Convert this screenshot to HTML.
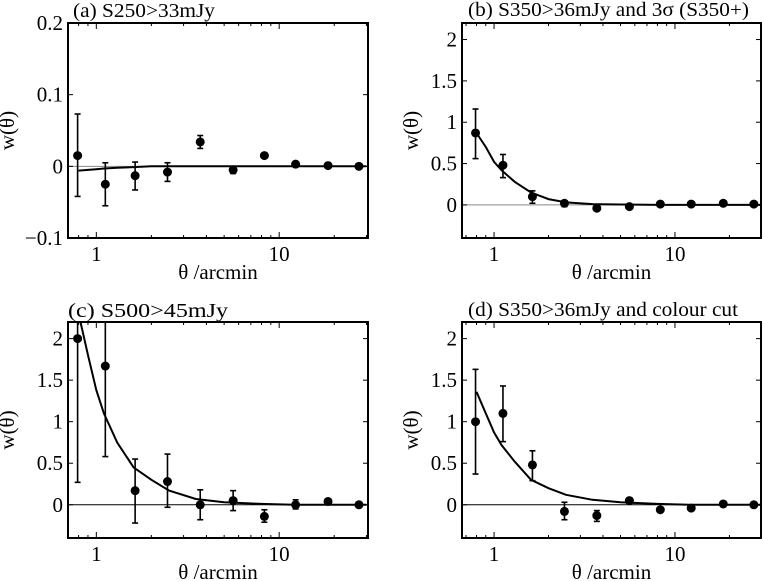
<!DOCTYPE html>
<html><head><meta charset="utf-8"><style>
body{margin:0;background:#fff}
svg{display:block}
text{font-family:"Liberation Serif",serif;fill:#000}
</style></head><body>
<svg id="fig" width="764" height="581" viewBox="0 0 764 581" xmlns="http://www.w3.org/2000/svg"></svg>
<script>
const thetaValues = [0.79,1.12,1.63,2.45,3.7,5.6,8.3,12.3,18.5,27.3];
const aValues = [0.015,-0.025,-0.013,-0.008,0.034,-0.005,0.015,0.003,0.001,0];
const aErrHi = [0.073,0.005,0.006,0.005,0.043,0,0.017,0.004,0.002,0.001];
const aErrLo = [-0.042,-0.055,-0.033,-0.021,0.025,-0.01,0.013,0.002,0,-0.001];
const bValues = [0.87,0.48,0.1,0.02,-0.04,-0.02,0.01,0.01,0.02,0.01];
const bErrHi = [1.16,0.61,0.17,0.05,-0.02,-0.01,0.02,0.02,0.03,0.02];
const bErrLo = [0.56,0.33,0.02,-0.02,-0.06,-0.03,0,0,0.01,0];
const cValues = [2.0,1.67,0.17,0.28,0,0.05,-0.14,0,0.04,0];
const cErrHi = [3.0,2.8,0.55,0.61,0.18,0.17,-0.06,0.06,0.06,0.01];
const cErrLo = [0.27,0.58,-0.22,-0.03,-0.18,-0.07,-0.21,-0.05,0.02,-0.01];
const dValues = [1.0,1.1,0.48,-0.08,-0.13,0.05,-0.06,-0.04,0.01,0];
const dErrHi = [1.63,1.43,0.65,0.03,-0.07,0.08,-0.05,-0.03,0.02,0.01];
const dErrLo = [0.37,0.76,0.29,-0.18,-0.2,0.02,-0.07,-0.05,0,-0.01];
const modelTheta = [0.8,0.9,1.0,1.1,1.3,1.6,2,2.5,3.5,5,8,12,20,30];
const aModel = [-0.006,-0.005,-0.004,-0.003,-0.002,-0.001,0,0,0,0,0,0,0,0];
const bModel = [0.87,0.7,0.52,0.42,0.28,0.15,0.07,0.03,0.01,0.005,0,0,0,0];
const cModel = [2.3,1.8,1.38,1.1,0.75,0.45,0.3,0.17,0.07,0.03,0.01,0,0,0];
const dModel = [1.36,1.1,0.87,0.72,0.52,0.3,0.2,0.12,0.06,0.03,0.01,0,0,0];
const aTicks = [0.2,0.1,0,-0.1];
const aTickLabels = ["0.2","0.1","0","\u22120.1"];
const bigTicks = [2,1.5,1,0.5,0];
const bigTickLabels = ["2","1.5","1","0.5","0"];

const NS="http://www.w3.org/2000/svg";
const svg=document.getElementById('fig');
function mk(tag,attrs,parent){const e=document.createElementNS(NS,tag);for(const k in attrs)e.setAttribute(k,attrs[k]);(parent||svg).appendChild(e);return e;}

const panels=[
 {id:'a',title:'(a) S250>33mJy',tx:73,ty:17,tw:142,L:68,R:368,T:23,B:238,xmin:0.70,xmax:30.6,ymin:-0.1,ymax:0.2,vals:aValues,hi:aErrHi,lo:aErrLo,model:aModel,ticks:aTicks,labels:aTickLabels,zero:'#888',yl:54},
 {id:'b',title:'(b) S350>36mJy and 3\u03c3 (S350+)',tx:468,ty:16,tw:281,L:462,R:761,T:23,B:238,xmin:0.665,xmax:29.9,ymin:-0.4,ymax:2.2,vals:bValues,hi:bErrHi,lo:bErrLo,model:bModel,ticks:bigTicks,labels:bigTickLabels,zero:'#888',yl:44},
 {id:'c',title:'(c) S500>45mJy',tx:68,ty:317,tw:160,L:68,R:368,T:322,B:538,xmin:0.70,xmax:30.6,ymin:-0.4,ymax:2.2,vals:cValues,hi:cErrHi,lo:cErrLo,model:cModel,ticks:bigTicks,labels:bigTickLabels,zero:'#000',yl:54},
 {id:'d',title:'(d) S350>36mJy and colour cut',tx:468,ty:316,tw:270,L:462,R:761,T:322,B:538,xmin:0.665,xmax:29.9,ymin:-0.4,ymax:2.2,vals:dValues,hi:dErrHi,lo:dErrLo,model:dModel,ticks:bigTicks,labels:bigTickLabels,zero:'#000',yl:44}
];

panels.forEach(p=>{
 const g=mk('g',{});
 
 
 const X=v=>p.L+(Math.log10(v)-Math.log10(p.xmin))/(Math.log10(p.xmax)-Math.log10(p.xmin))*(p.R-p.L);
 const Y=v=>p.B-(v-p.ymin)/(p.ymax-p.ymin)*(p.B-p.T);
 const clip=mk('clipPath',{id:'clip'+p.id},g);
 mk('rect',{x:p.L,y:p.T,width:p.R-p.L,height:p.B-p.T},clip);
 const z=mk('line',{x1:p.L,x2:p.R,y1:Y(0),y2:Y(0),stroke:p.zero,'stroke-width':1},g);
 
 
 const xt=[0.7,0.8,0.9,1,2,3,4,5,6,7,8,9,10,20,30];
 xt.forEach(t=>{ if(t<p.xmin||t>p.xmax)return; const x=X(t); const len=(t===1||t===10)?6:3;
  mk('line',{x1:x,x2:x,y1:p.B,y2:p.B-len,stroke:'#000','stroke-width':1},g);
  mk('line',{x1:x,x2:x,y1:p.T,y2:p.T+len,stroke:'#000','stroke-width':1},g);});
 [1,10].forEach(t=>{const tl=mk('text',{x:X(t),y:p.B+23,'font-size':21,'text-anchor':'middle'},g);tl.textContent=String(t);
  
  });
 p.ticks.forEach((t,i)=>{const y=Y(t);
  mk('line',{x1:p.L,x2:p.L+5,y1:y,y2:y,stroke:'#000','stroke-width':1},g);
  mk('line',{x1:p.R,x2:p.R-5,y1:y,y2:y,stroke:'#000','stroke-width':1},g);
  const tl=mk('text',{x:p.L-5,y:y+7,'font-size':21,'text-anchor':'end'},g);tl.textContent=p.labels[i];
  
  });
 const pts=modelTheta.map((t,i)=>X(t).toFixed(1)+','+Y(p.model[i]).toFixed(1)).join(' ');
 const ml=mk('polyline',{points:pts,fill:'none',stroke:'#000','stroke-width':2,'clip-path':'url(#clip'+p.id+')'},g);
 
 
 p.vals.forEach((v,i)=>{const x=X(thetaValues[i]);
  const eg=mk('g',{'clip-path':'url(#clip'+p.id+')'},g);
  
  
  const yh=Y(p.hi[i]),yl=Y(p.lo[i]);
  mk('line',{x1:x,x2:x,y1:yh,y2:yl,stroke:'#000','stroke-width':1.6},eg);
  mk('line',{x1:x-3,x2:x+3,y1:yh,y2:yh,stroke:'#000','stroke-width':1.6},eg);
  mk('line',{x1:x-3,x2:x+3,y1:yl,y2:yl,stroke:'#000','stroke-width':1.6},eg);
  mk('circle',{cx:x,cy:Y(v),r:4.5,fill:'#000'},eg);});
 const fr=mk('rect',{x:p.L,y:p.T,width:p.R-p.L,height:p.B-p.T,fill:'none',stroke:'#000','stroke-width':2},g);
 
 
 const tt=mk('text',{x:p.tx,y:p.ty,'font-size':20,textLength:p.tw,lengthAdjust:'spacingAndGlyphs'},g);tt.textContent=p.title;
 
 
 const xl=mk('text',{x:(p.L+p.R)/2,y:p.B+41,'font-size':21,'text-anchor':'middle'},g);xl.textContent='\u03b8 /arcmin';
 
 
 const cy=(p.T+p.B)/2, lx=p.L-p.yl;
 const yl=mk('text',{x:lx,y:cy,'font-size':21,'text-anchor':'middle',transform:'rotate(-90 '+lx+' '+cy+')'},g);yl.textContent='w(\u03b8)';
 
 
});
</script>
</body></html>
